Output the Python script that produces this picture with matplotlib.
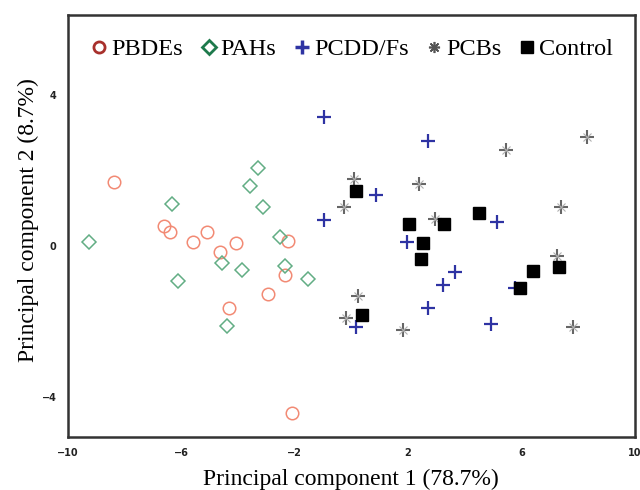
import matplotlib.pyplot as plt
from matplotlib.lines import Line2D

# PCA scores
pbde_x = [-8.38, -6.61, -6.40, -5.59, -5.10, -4.07, -4.64, -4.32, -2.95, -2.35, -2.24, -2.10]
pbde_y = [1.69, 0.53, 0.37, 0.11, 0.37, 0.08, -0.16, -1.64, -1.27, -0.77, 0.13, -4.42]

pah_x = [-9.26, -6.34, -6.11, -4.58, -4.38, -3.84, -3.31, -3.57, -3.12, -2.50, -2.34, -1.53]
pah_y = [0.11, 1.11, -0.92, -0.44, -2.12, -0.63, 2.07, 1.59, 1.03, 0.23, -0.53, -0.87]

pcdd_x = [-0.97, 2.71, 0.87, -0.97, 1.95, 5.12, 3.66, 3.22, 2.71, 4.92, 0.18, 5.77]
pcdd_y = [3.40, 2.78, 1.35, 0.69, 0.10, 0.64, -0.69, -1.02, -1.65, -2.07, -2.13, -1.12]

pcb_x = [0.09, -0.25, 2.38, 5.45, 8.30, 2.95, 7.41, 7.24, 0.23, -0.20, 1.83, 7.82]
pcb_y = [1.76, 1.02, 1.64, 2.54, 2.88, 0.71, 1.02, -0.26, -1.32, -1.89, -2.22, -2.13]

ctrl_x = [0.18, 2.02, 3.27, 4.50, 2.53, 2.45, 6.39, 7.33, 5.94, 0.37]
ctrl_y = [1.46, 0.58, 0.58, 0.88, 0.07, -0.35, -0.65, -0.55, -1.12, -1.82]

x_ticks = [-10, -6, -2, 2, 6, 10]
y_ticks = [-4, 0, 4]

serif = 'Liberation Serif'

fig = plt.figure(figsize=(6.4, 4.9), dpi=100)
ax = fig.add_axes([0.106, 0.108, 0.886, 0.861])

ax.plot(pbde_x, pbde_y, 'o', ms=9, mfc='none', mec='#f28a74', mew=1.1, ls='none')
ax.plot(pah_x, pah_y, 'D', ms=7.5, mfc='none', mec='#62ad84', mew=1.1, ls='none')
ax.plot(pcdd_x, pcdd_y, '+', ms=10, mec='#2e33a3', mew=1.6, ls='none')
# PCB marker: plus with faint short diagonals
ax.plot(pcb_x, pcb_y, '+', ms=10, mec='#666666', mew=1.5, ls='none')
ax.plot(pcb_x, pcb_y, 'x', ms=6, mec='#b0b0b0', mew=0.8, ls='none')
ax.plot(ctrl_x, ctrl_y, 's', ms=9, mfc='black', mec='black', ls='none')

ax.set_xlim(-10, 10)
ax.set_ylim(-5.05, 6.1)
ax.set_xticks(x_ticks)
ax.set_yticks(y_ticks)
ax.tick_params(length=0, labelsize=7, pad=8, labelcolor='#222222')
for lab in ax.get_xticklabels() + ax.get_yticklabels():
    lab.set_fontweight('bold')

for sp in ax.spines.values():
    sp.set_linewidth(1.8)
    sp.set_color('#333333')

ax.set_xlabel('Principal component 1 (78.7%)', fontsize=17, family=serif, labelpad=8)
ax.set_ylabel('Principal component 2 (8.7%)', fontsize=17, family=serif)
ax.yaxis.set_label_coords(-0.05, 0.514)

handles = [
    Line2D([], [], ls='none', marker='o', ms=8, mfc='none', mec='#a8302c', mew=2),
    Line2D([], [], ls='none', marker='D', ms=7, mfc='none', mec='#1e7a4c', mew=2),
    Line2D([], [], ls='none', marker='+', ms=10, mec='#2e33a3', mew=2.5),
    Line2D([], [], ls='none', marker=(8, 2, 0), ms=8, mec='#555555', mew=1.2),
    Line2D([], [], ls='none', marker='s', ms=8, mfc='black', mec='black'),
]
ax.legend(handles, ['PBDEs', 'PAHs', 'PCDD/Fs', 'PCBs', 'Control'],
          loc='upper center', ncol=5, frameon=False, prop={'family': serif, 'size': 17.5},
          handlelength=0.8, handletextpad=0.1, columnspacing=0.65,
          bbox_to_anchor=(0.5, 1.0), borderaxespad=0.55)

fig.savefig('out.png', dpi=100)
